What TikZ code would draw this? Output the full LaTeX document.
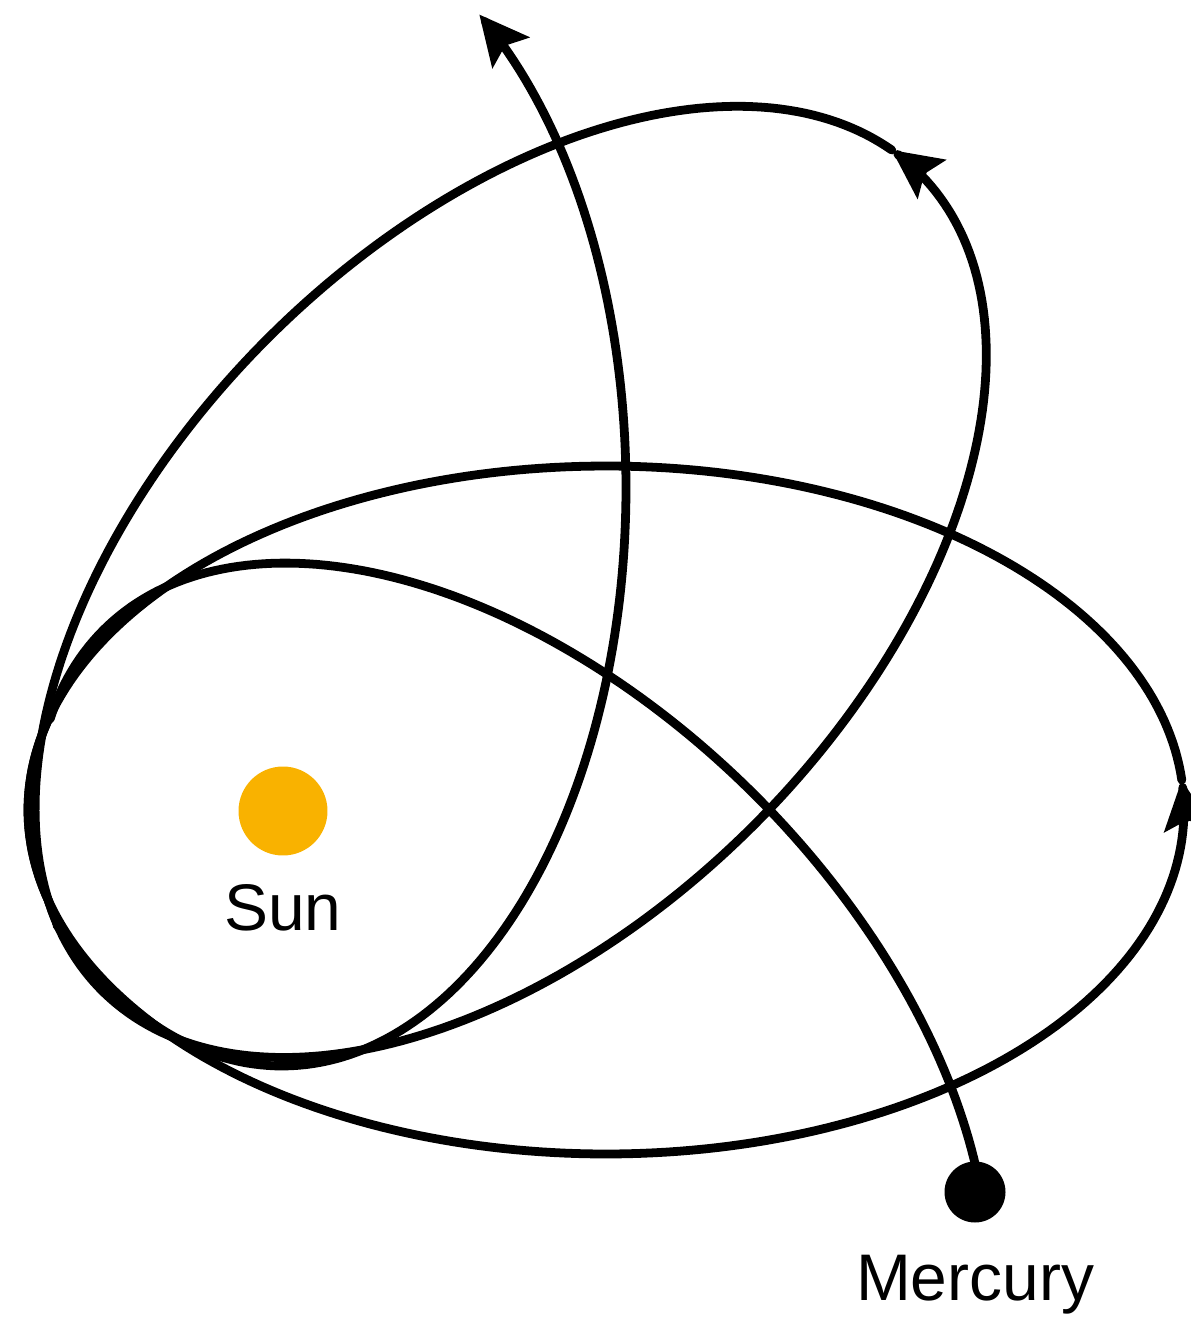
\documentclass[tikz,border=0pt]{standalone}
\usepackage{fontspec}
\setmainfont{Liberation Sans}
\usepackage{tikz}
\usetikzlibrary{arrows.meta}
\definecolor{sunyellow}{RGB}{249,178,0}

\begin{document}
\begin{tikzpicture}[
    x=0.02cm, y=-0.02cm,
    orbit/.style={line width=5pt, line cap=round, line join=round},
    arr/.style={-{Stealth[length=28pt, width=27pt, inset=5pt]}},
    body/.style={circle, inner sep=0pt},
    lbl/.style={anchor=base, font=\fontsize{37.5}{45}\selectfont}
]
\useasboundingbox (0,0) rectangle (1190,1317);

% Sun
\node[body, fill=sunyellow, minimum size=1.78cm] (sun) at (283,811) {};
\node[lbl] (sunlbl) at (283,930) {Sun};

% Mercury
\node[body, fill=black, minimum size=1.22cm] (mercury) at (975,1192) {};
\node[lbl] (mercurylbl) at (975,1300) {Mercury};

% First orbit (turned down), starts at Mercury
\begin{scope}[rotate around={-45:(sun)}]
\draw[orbit] (mercury.center) -- plot[domain=-41:-197, samples=130, variable=\t] ({606+578*cos(\t)},{810+344*sin(\t)});
\end{scope}

% Second orbit
\draw[orbit, arr] plot[domain=-164.5:-365, samples=161, variable=\t] ({606+578*cos(\t)},{810+344*sin(\t)});
\draw[orbit] plot[domain=-365:-555.5, samples=153, variable=\t] ({606+578*cos(\t)},{810+344*sin(\t)});

% Third orbit
\begin{scope}[rotate around={45:(sun)}]
\draw[orbit, arr] plot[domain=197:-6, samples=162, variable=\t] ({606+578*cos(\t)},{810+344*sin(\t)});
\draw[orbit] plot[domain=-6:-167, samples=130, variable=\t] ({606+578*cos(\t)},{810+344*sin(\t)});
\end{scope}

% Fourth orbit
\begin{scope}[rotate around={90:(sun)}]
\draw[orbit, arr] plot[domain=220.9:35, samples=150, variable=\t] ({606+578*cos(\t)},{810+344*sin(\t)});
\end{scope}
\end{tikzpicture}
\end{document}
